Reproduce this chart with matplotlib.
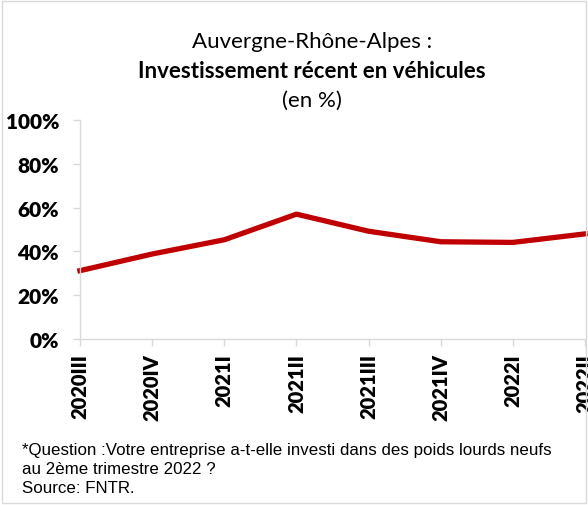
import matplotlib.pyplot as plt
from matplotlib.patches import Rectangle
from matplotlib.ticker import FuncFormatter

quarters = ["2020III", "2020IV", "2021I", "2021II", "2021III", "2021IV", "2022I", "2022II"]
invest_pct = [31.2, 38.8, 45.3, 57.0, 49.2, 44.4, 44.1, 48.0]

plt.rcParams['font.family'] = ['Lato', 'DejaVu Sans']

fig = plt.figure(figsize=(5.88, 5.06), dpi=100)
ax = fig.add_axes([0.136, 0.328, 0.859, 0.433])

ax.plot(range(len(quarters)), invest_pct, color='#C00000', linewidth=3.8,
        solid_joinstyle='round', clip_on=False)

ax.set_xlim(0, len(quarters) - 1)
ax.set_ylim(0, 100)
ax.set_yticks([0, 20, 40, 60, 80, 100])
ax.yaxis.set_major_formatter(FuncFormatter(lambda v, p: f"{int(v)}%"))
ax.set_xticks(range(len(quarters)))
ax.set_xticklabels(quarters, rotation=90, fontweight='heavy', fontsize=14.5)
for lab in ax.get_yticklabels():
    lab.set_fontweight('heavy')
    lab.set_fontsize(15)

for side in ['top', 'right']:
    ax.spines[side].set_visible(False)
for side in ['left', 'bottom']:
    ax.spines[side].set_color('#D9D9D9')
    ax.spines[side].set_linewidth(1)
ax.tick_params(axis='both', color='#D9D9D9', length=5, width=1, pad=5)
ax.tick_params(axis='y', pad=10)

# titles
fig.text(0.53, 1 - 42 / 506, "Auvergne-Rhône-Alpes :", ha='center', va='center', fontsize=16)
fig.text(0.53, 1 - 72 / 506, "Investissement récent en véhicules", ha='center', va='center',
         fontsize=16, fontweight='bold')
fig.text(0.53, 1 - 101 / 506, "(en %)", ha='center', va='center', fontsize=16)

# footnote
note = dict(fontsize=12.2, family='Liberation Sans', va='center', ha='left')
fig.text(22 / 588, 1 - 451 / 506, "*Question :Votre entreprise a-t-elle investi dans des poids lourds neufs", **note)
fig.text(22 / 588, 1 - 470 / 506, "au 2ème trimestre 2022 ?", **note)
fig.text(22 / 588, 1 - 489 / 506, "Source: FNTR.", **note)

# chart border
fig.patches.append(Rectangle((0.003, 0.003), 0.994, 0.994, transform=fig.transFigure,
                             fill=False, edgecolor='#D9D9D9', linewidth=1))

fig.savefig("out.png", dpi=100)
